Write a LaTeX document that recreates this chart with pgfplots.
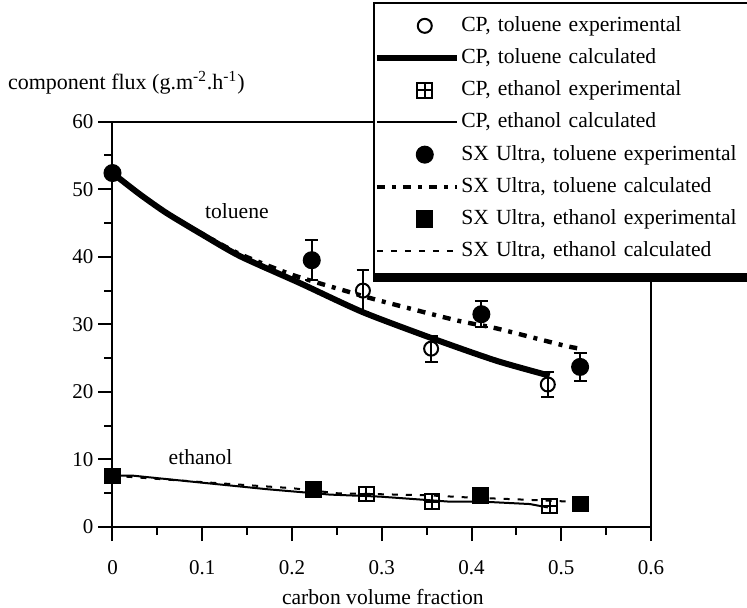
\documentclass[border=0pt]{standalone}
\usepackage{fontspec}
\setmainfont{Liberation Serif}
\usepackage{pgfplots}
\pgfplotsset{compat=1.18}
\pgfdeclareplotmark{sqplus}{%
  \pgfpathrectangle{\pgfqpoint{-\pgfplotmarksize}{-\pgfplotmarksize}}{\pgfqpoint{2\pgfplotmarksize}{2\pgfplotmarksize}}%
  \pgfpathmoveto{\pgfqpoint{-\pgfplotmarksize}{0pt}}\pgfpathlineto{\pgfqpoint{\pgfplotmarksize}{0pt}}%
  \pgfpathmoveto{\pgfqpoint{0pt}{-\pgfplotmarksize}}\pgfpathlineto{\pgfqpoint{0pt}{\pgfplotmarksize}}%
  \pgfusepathqstroke}
\pgfplotsset{
  markleg/.style={legend image code/.code={\draw[##1] plot coordinates {(24pt,0pt)};}},
  lineleg/.style={legend image code/.code={\draw[##1] (0pt,0pt) -- (40pt,0pt);}},
}
\begin{document}
\begin{tikzpicture}
\path[use as bounding box] (-56.25pt,-40pt) rectangle (317.25pt,263.5pt);
\begin{axis}[
  scale only axis, width=269.25pt, height=202.65pt,
  xmin=0, xmax=0.6, ymin=0, ymax=60,
  xtick={0,0.1,0.2,0.3,0.4,0.5,0.6},
  xticklabels={0,0.1,0.2,0.3,0.4,0.5,0.6},
  ytick={0,10,20,30,40,50,60},
  minor x tick num=1, minor y tick num=1,
  tick align=outside, tick pos=left,
  major tick length=7pt, minor tick length=4pt,
  axis line style={line width=1pt},
  every tick/.append style={line width=1pt, black},
  /pgf/number format/assume math mode=true,
  tick label style={font=\fontsize{10.5}{12}\selectfont},
  xticklabel style={yshift=-6pt},
  yticklabel style={xshift=1pt},
  xlabel={carbon volume fraction},
  xlabel style={font=\fontsize{10.8}{13}\selectfont, at={(axis description cs:0.502,-0.1727)}, anchor=center},
  ylabel={component flux (g.m\textsuperscript{-2}.h\textsuperscript{-1})},
  ylabel style={font=\fontsize{11}{13}\selectfont, rotate=-90, at={(axis description cs:-0.2071,1.0955)}, anchor=west},
  clip=false,
  legend style={name=leg, at={(axis description cs:0.4837,1.2953)}, anchor=north west,
    draw=black, line width=0.8pt, fill=white,
    inner xsep=0pt, inner ysep=5.5pt, row sep=4.1pt,
    font=\fontsize{10.8}{13}\selectfont,
    nodes={text height=8pt, text depth=2.5pt, inner sep=0.75pt, text width=150pt},
    legend cell align=left},
]
% CP, toluene experimental
\addplot[only marks, mark=o, mark size=3.5pt, black, line width=1pt, markleg,
  error bars/.cd, y dir=both, y explicit,
  error bar style={line width=1pt, black},
  error mark options={rotate=90, mark size=3.2pt, line width=1pt, black}]
  table[x=x, y=y, y error=e] {
x y e
0.279 35.0 3.1
0.355 26.4 1.9
0.485 21.1 1.9
};
\addlegendentry{CP, toluene experimental}
% CP, toluene calculated
\addplot[black, line width=3pt, no markers, smooth, tension=0.4, lineleg]
  coordinates {(0,52.4) (0.03,49.3) (0.06,46.5) (0.1,43.3) (0.142,40.1) (0.209,36.1) (0.279,31.8) (0.361,27.7) (0.428,24.6) (0.487,22.4)};
\addlegendentry{CP, toluene calculated}
% CP, ethanol experimental
\addplot[only marks, mark=sqplus, mark size=3.7pt, black, line width=1pt, markleg]
  coordinates {(0.283,4.9) (0.356,3.75) (0.487,3.1)};
\addlegendentry{CP, ethanol experimental}
% CP, ethanol calculated
\addplot[black, line width=1pt, no markers, lineleg]
  coordinates {(0,7.6) (0.023,7.6) (0.097,6.6) (0.172,5.6) (0.242,4.8) (0.298,4.5) (0.324,4.25) (0.376,3.75) (0.413,3.75) (0.465,3.4) (0.485,2.9)};
\addlegendentry{CP, ethanol calculated}
% SX Ultra, toluene experimental
\addplot[only marks, mark=*, mark size=4pt, black, line width=1pt, markleg,
  error bars/.cd, y dir=both, y explicit,
  error bar style={line width=1pt, black},
  error mark options={rotate=90, mark size=3.2pt, line width=1pt, black}]
  table[x=x, y=y, y error=e] {
x y e
0 52.4 0
0.222 39.5 3.0
0.411 31.5 1.9
0.521 23.7 2.1
};
\addlegendentry{SX Ultra, toluene experimental}
% SX Ultra, toluene calculated
\addplot[black, line width=2.2pt, no markers, smooth, tension=0.4, dash pattern=on 4pt off 3.5pt on 2pt off 3.5pt, lineleg]
  coordinates {(0,52.4) (0.03,49.3) (0.06,46.5) (0.1,43.4) (0.142,40.4) (0.201,37.3) (0.261,34.9) (0.298,33.5) (0.383,30.6) (0.428,29.4) (0.502,26.9) (0.521,26.4)};
\addlegendentry{SX Ultra, toluene calculated}
% SX Ultra, ethanol experimental
\addplot[only marks, mark=square*, mark size=3.9pt, black, markleg]
  coordinates {(0,7.55) (0.224,5.6) (0.41,4.7) (0.521,3.4)};
\addlegendentry{SX Ultra, ethanol experimental}
% SX Ultra, ethanol calculated
\addplot[black, line width=1pt, no markers, dash pattern=on 3pt off 4pt, lineleg]
  coordinates {(0,7.6) (0.1,6.65) (0.2,5.75) (0.25,5.0) (0.3,4.85) (0.35,4.7) (0.4,4.35) (0.45,4.1) (0.52,3.7)};
\addlegendentry{SX Ultra, ethanol calculated}
\node[font=\fontsize{10.8}{13}\selectfont] at (axis cs:0.1386,46.7) {toluene};
\node[font=\fontsize{10.8}{13}\selectfont] at (axis cs:0.098,10.4) {ethanol};
\end{axis}
\fill[black] (leg.south west) rectangle ([yshift=-3.5pt]leg.south east);
\end{tikzpicture}
\end{document}
